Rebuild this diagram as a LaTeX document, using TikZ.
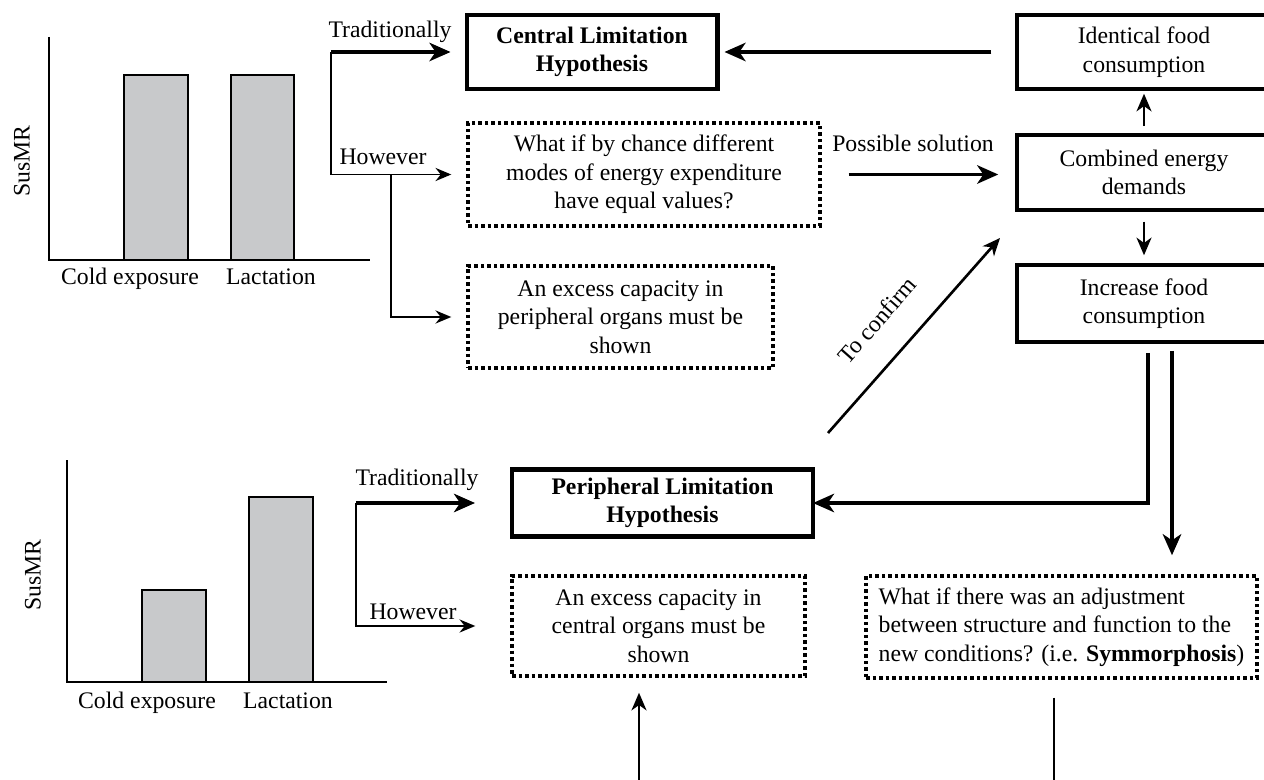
\documentclass[tikz,border=0pt]{standalone}
\usepackage{fontspec}
\setmainfont{Liberation Serif}
\usetikzlibrary{arrows.meta}
\definecolor{barfill}{RGB}{200,201,203}
\newcommand\labelfont{\fontsize{13.5}{16.2}\selectfont}
\tikzset{
  hyp/.style={draw, line width=2.3pt, align=center, font=\labelfont\bfseries},
  res/.style={draw, line width=2pt, align=center},
  query/.style={draw, line width=2pt, dash pattern=on 2.1pt off 1.6pt, align=center},
  barbox/.style={draw, fill=barfill, line width=0.9pt},
  barlabel/.style={anchor=base},
  bigarrow/.style={line width=2pt, -{Stealth[length=12pt,width=10.5pt,inset=3.5pt]}},
  midarrow/.style={line width=1.5pt, -{Stealth[length=10pt,width=8.5pt,inset=3pt]}},
  thinarrow/.style={line width=0.9pt, -{Stealth[length=9pt,width=7.5pt,inset=3pt]}},
}
\begin{document}
\begin{tikzpicture}[x=0.02cm, y=-0.02cm, font=\labelfont]
 \clip (0,0) rectangle (1264,780);

 \foreach \x/\w in {124/188, 231/294}
 {
     \draw[barbox] (\x,260) rectangle (\w,75);
 }
 \draw[line width=0.9pt] (49,37) -- (49,260) -- (370,260);
 \node (ylabA) [rotate=90] at (22,161) {SusMR};
 \node[barlabel] (coldA) at (130,285) {Cold exposure};
 \node[barlabel] (lactA) at (271,285) {Lactation};

 \foreach \x/\w/\h in {142/206/590, 249/313/497}
 {
     \draw[barbox] (\x,682) rectangle (\w,\h);
 }
 \draw[line width=0.9pt] (67,460) -- (67,682) -- (387,682);
 \node (ylabB) [rotate=90] at (33,575) {SusMR};
 \node[barlabel] (coldB) at (147,708) {Cold exposure};
 \node[barlabel] (lactB) at (288,708) {Lactation};

 \node[hyp, minimum width=5.02cm, minimum height=1.48cm] (central) at (592,52) {Central Limitation\\Hypothesis};
 \node[res, minimum width=5.08cm, minimum height=1.48cm] (ident) at (1144,52) {Identical food\\consumption};
 \node[res, minimum width=5.08cm, minimum height=1.5cm] (comb) at (1144,172.5) {Combined energy\\demands};
 \node[res, minimum width=5.08cm, minimum height=1.54cm] (incr) at (1144,303.5) {Increase food\\consumption};
 \node[query, minimum width=7.04cm, minimum height=2.06cm] (chance) at (644,174.5) {What if by chance different\\modes of energy expenditure\\have equal values?};
 \node[query, minimum width=6.1cm, minimum height=2.04cm] (perorg) at (620.5,317) {An excess capacity in\\peripheral organs must be\\shown};
 \node[hyp, minimum width=6.02cm, minimum height=1.34cm] (periph) at (662.5,503) {Peripheral Limitation\\Hypothesis};
 \node[query, minimum width=5.86cm, minimum height=2cm] (cenorg) at (658.5,626) {An excess capacity in\\central organs must be\\shown};
 \node[query, align=left, minimum width=7.82cm, minimum height=2.04cm] (symm) at (1061.5,627) {What if there was an adjustment\\between structure and function to the\\new conditions? (i.e. \textbf{Symmorphosis})};

 \coordinate (forkA) at (331,52);
 \coordinate (forkB) at (391,174.5);
 \draw[thinarrow, shorten >=0.3cm] (forkA) |- (chance.west);
 \draw[bigarrow, shorten >=0.28cm] (forkA) -- (central.west);
 \draw[thinarrow, shorten >=0.3cm] (forkB) |- (perorg.west);
 \node (tradA) at (390,32) {Traditionally};
 \node (howA) at (383,157) {However};

 \coordinate (forkC) at (356,503);
 \draw[thinarrow, shorten >=0.7cm] (forkC) |- (cenorg.west);
 \draw[bigarrow, shorten >=0.7cm] (forkC) -- (periph.west);
 \node (tradB) at (417,480) {Traditionally};
 \node (howB) at (413,612) {However};

 \draw[bigarrow, shorten <=0.48cm, shorten >=0.1cm] (ident.west) -- (central.east);
 \draw[midarrow, shorten <=0.14cm, shorten >=0.06cm] (comb.north) -- (ident.south);
 \draw[midarrow, shorten <=0.2cm, shorten >=0.16cm] (comb.south) -- (incr.north);
 \draw[bigarrow, shorten <=0.54cm, shorten >=0.34cm] (chance.east) -- (chance.east -| comb.west);
 \node (possol) at (913,143) {Possible solution};

 \coordinate (confA) at (828,433);
 \coordinate (confB) at (1000,238);
 \draw[midarrow] (confA) -- node[pos=.45, sloped, above=0.45cm] (confirm) {To confirm} (confB);

 \coordinate (incrL) at (1148,353);
 \coordinate (incrR) at (1172,351);
 \draw[bigarrow, shorten >=-0.04cm] (incrL) |- (periph.east);
 \draw[bigarrow, shorten >=0.38cm] (incrR) -- (incrR |- symm.north);

 \coordinate (inA) at (639,790);
 \coordinate (outB) at (1054,790);
 \draw[midarrow, shorten >=0.3cm] (inA) -- (inA |- cenorg.south);
 \draw[line width=1.5pt, shorten <=0.36cm] (outB |- symm.south) -- (outB);
\end{tikzpicture}
\end{document}
